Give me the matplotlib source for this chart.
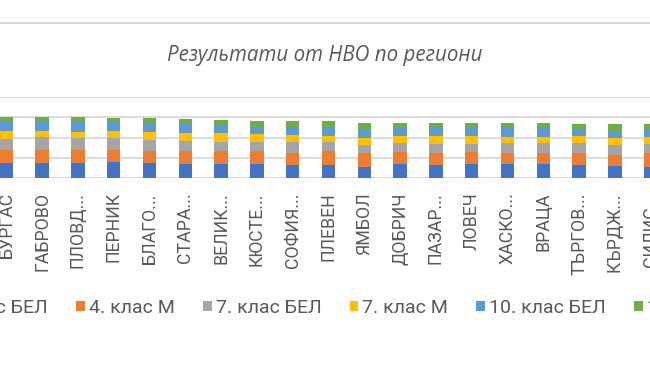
import matplotlib.pyplot as plt
from matplotlib.lines import Line2D
import numpy as np

# Области (видимата част от диаграмата)
regioni = ['БУРГАС', 'ГАБРОВО', 'ПЛОВД...', 'ПЕРНИК', 'БЛАГО...', 'СТАРА...',
           'ВЕЛИК...', 'КЮСТЕ...', 'СОФИЯ...', 'ПЛЕВЕН', 'ЯМБОЛ', 'ДОБРИЧ',
           'ПАЗАР...', 'ЛОВЕЧ', 'ХАСКО...', 'ВРАЦА', 'ТЪРГОВ...', 'КЪРДЖ...',
           'СИЛИС...']

# Средни резултати (точки), отчетени от картинката
bel4 = [74, 74, 74, 79, 74, 69, 69, 69, 66, 66, 58, 69, 66, 69, 69, 69, 66, 63, 58]
mat4 = [66, 66, 66, 61, 61, 66, 63, 63, 58, 66, 66, 59, 58, 59, 54, 54, 58, 53, 66]
bel7 = [53, 61, 58, 58, 54, 51, 49, 49, 54, 46, 41, 44, 44, 40, 49, 49, 49, 49, 44]
mat7 = [38, 30, 30, 33, 41, 36, 41, 36, 36, 28, 33, 38, 38, 38, 33, 33, 33, 33, 33]
bel10 = [44, 46, 49, 46, 41, 46, 41, 33, 36, 44, 41, 40, 44, 44, 41, 41, 38, 36, 43]
mat10 = [26, 25, 25, 20, 28, 25, 25, 30, 30, 30, 33, 21, 21, 21, 25, 25, 23, 33, 23]

serii = ['4. клас БЕЛ', '4. клас М', '7. клас БЕЛ', '7. клас М',
         '10. клас БЕЛ', '10. клас М']
stoinosti = [bel4, mat4, bel7, mat7, bel10, mat10]
cvetove = ['#4472C4', '#ED7D31', '#A5A5A5', '#FFC000', '#5B9BD5', '#70AD47']

plt.rcParams['font.family'] = ['Roboto', 'DejaVu Sans']

fig = plt.figure(figsize=(6.5, 3.65), dpi=100)
ax = fig.add_axes([-0.0371, 0.5115, 1.074, 0.2227])

x = np.arange(len(regioni))
dolu = np.zeros(len(regioni))
for ime, vals, c in zip(serii, stoinosti, cvetove):
    ax.bar(x, vals, bottom=dolu, width=0.37, color=c, label=ime, zorder=3)
    dolu += np.array(vals)

ax.set_xlim(-0.85, 18.65)
ax.set_ylim(0, 400)
ax.set_yticks([0, 100, 200, 300, 400])
ax.yaxis.grid(True, color='#D9D9D9', linewidth=1.3)
ax.tick_params(axis='y', left=False, labelleft=False)
ax.set_xticks(x)
ax.set_xticklabels(regioni, rotation=90, fontsize=12.8, color='#595959')
ax.tick_params(axis='x', length=0, pad=10)
for s in ['top', 'left', 'right', 'bottom']:
    ax.spines[s].set_visible(False)
ax.set_facecolor('none')

# Заглавие и горна рамка
fig.text(0.5, 0.849, 'Результати от НВО по региони', ha='center', va='center',
         fontsize=14.8, style='italic', color='#595959', family=['Open Sans', 'DejaVu Sans'])
fig.add_artist(Line2D([0, 1], [0.937, 0.937], color='#D9D9D9', linewidth=1.5))

fig.legend(loc='center left', bbox_to_anchor=(-0.123, 0.156), ncol=6, frameon=False,
           fontsize=14, borderpad=0, handlelength=0.45, handleheight=0.45,
           handletextpad=0.2, columnspacing=1.45, labelcolor='#595959')

fig.savefig('out.png', dpi=100)
